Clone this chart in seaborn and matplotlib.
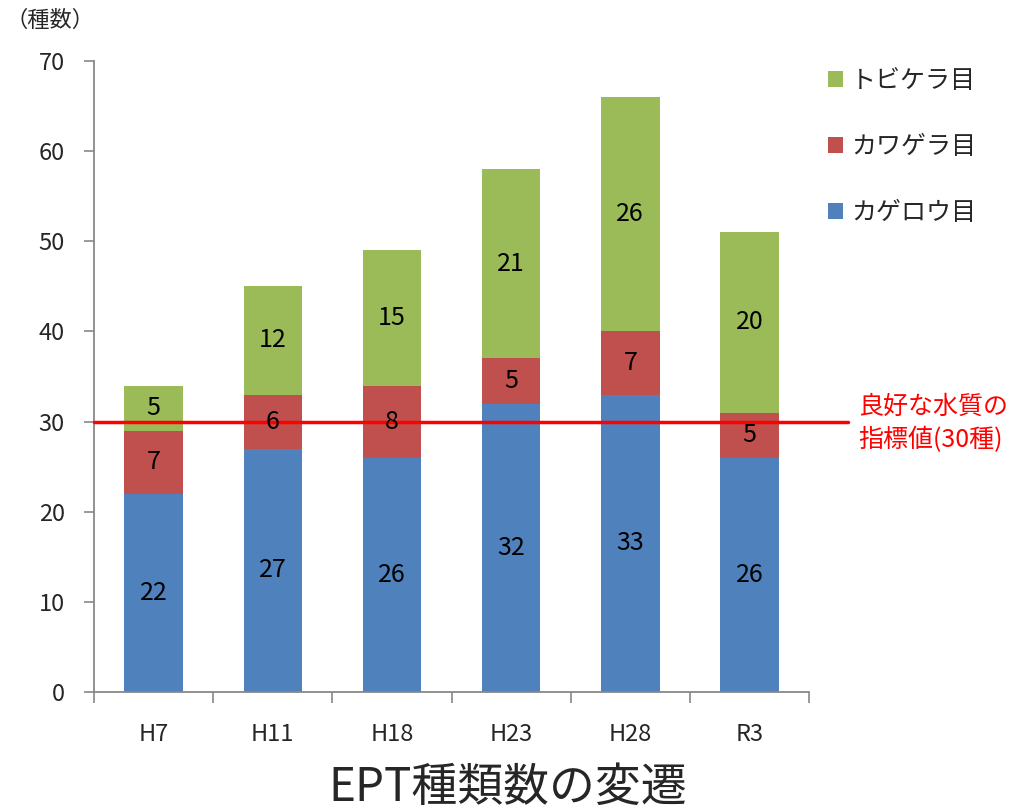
import matplotlib
matplotlib.use("Agg")
import matplotlib.pyplot as plt
import seaborn as sns
import numpy as np
import pandas as pd
from matplotlib.patches import Patch
from matplotlib.ticker import FixedLocator

years = ["H7", "H11", "H18", "H23", "H28", "R3"]
kagerou = [22, 27, 26, 32, 33, 26]   # カゲロウ目
kawagera = [7, 6, 8, 5, 7, 5]        # カワゲラ目
tobikera = [5, 12, 15, 21, 26, 20]   # トビケラ目
series_names = ["カゲロウ目", "カワゲラ目", "トビケラ目"]
colors = ["#4F81BD", "#C0504D", "#9BBB59"]
threshold = 30

sns.set_theme(style="white")
plt.rcParams["font.family"] = ["Noto Sans CJK JP", "DejaVu Sans"]

fig = plt.figure(figsize=(10.2, 8.1), dpi=100)
ax = fig.add_axes([0.0922, 0.1457, 0.7010, 0.7790])

k = np.array(kagerou)
w = np.array(kawagera)
t = np.array(tobikera)
layers = [k + w + t, k + w, k]
layer_colors = [colors[2], colors[1], colors[0]]
for vals, c in zip(layers, layer_colors):
    df = pd.DataFrame({"year": years, "v": vals})
    sns.barplot(data=df, x="year", y="v", color=c, width=0.49,
                saturation=1, ax=ax, linewidth=0, zorder=2)

# segment labels
bottoms = [np.zeros(len(years)), k, k + w]
for vals, bot in zip([k, w, t], bottoms):
    for i, (v, b) in enumerate(zip(vals, bot)):
        ax.text(i, b + v / 2, str(v), ha="center", va="center",
                fontsize=18, color="black", zorder=5)

ax.set_xlim(-0.5, 5.5)
ax.set_ylim(0, 70)
ax.set_yticks(range(0, 71, 10))
ax.set_xlabel("")
ax.set_ylabel("")
ax.tick_params(axis="y", labelsize=17, length=7, width=1.2, color="#888888",
               pad=14, left=True)
ax.tick_params(axis="x", which="major", labelsize=17, length=0, pad=22)
ax.xaxis.set_minor_locator(FixedLocator(np.arange(-0.5, 6, 1)))
ax.tick_params(axis="x", which="minor", length=8, width=1.2, color="#888888",
               bottom=True)
for s in ["top", "right"]:
    ax.spines[s].set_visible(False)
for s in ["left", "bottom"]:
    ax.spines[s].set_color("#888888")
    ax.spines[s].set_linewidth(1.3)

# threshold line
ax.axhline(threshold, xmin=0, xmax=1.055, color="#FF0000", linewidth=2.5,
           clip_on=False, zorder=4)
ax.text(1.069, 29.8, "良好な水質の\n指標値(30種)", transform=ax.get_yaxis_transform(),
        ha="left", va="center", fontsize=18, color="#FF0000", linespacing=1.35)

# legend
handles = [Patch(facecolor=colors[i], edgecolor="none", label=series_names[i])
           for i in [2, 1, 0]]
fig.legend(handles=handles, loc="upper left", bbox_to_anchor=(0.79, 0.944),
           frameon=False, fontsize=18, handlelength=0.6, handleheight=0.6,
           handletextpad=0.3, labelspacing=1.6)

fig.text(0.005, 0.975, "（種数）", fontsize=16, ha="left", va="center")
fig.text(0.498, 0.028, "EPT種類数の変遷", fontsize=33, ha="center", va="center")

fig.savefig("out.png", dpi=100)
